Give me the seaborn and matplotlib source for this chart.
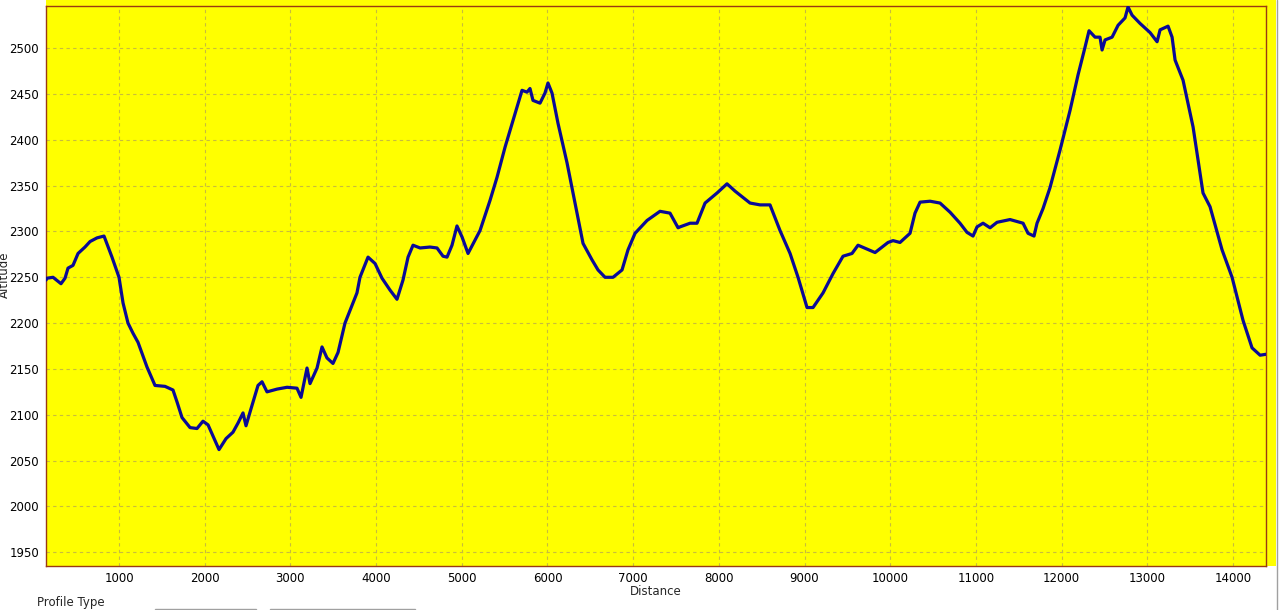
import pandas as pd
import matplotlib.pyplot as plt
import seaborn as sns
from matplotlib.patches import Rectangle

# --- profile data (distance in m, altitude in m) ---
distance = [148, 160, 230, 323, 370, 405, 463, 522, 603, 662, 743, 825, 918,
            1000, 1047, 1105, 1163, 1222, 1327, 1420, 1537, 1630, 1677, 1735,
            1829, 1910, 1980, 2039, 2120, 2167, 2249, 2330, 2389, 2447, 2482,
            2529, 2622, 2669, 2727, 2844, 2961, 3077, 3124, 3194, 3229, 3311,
            3369, 3427, 3497, 3556, 3637, 3696, 3777, 3812, 3906, 3988, 4069,
            4163, 4244, 4314, 4373, 4431, 4513, 4629, 4711, 4781, 4828, 4886,
            4944, 5003, 5073, 5213, 5330, 5411, 5505, 5598, 5703, 5761, 5796,
            5831, 5913, 5971, 6006, 6053, 6123, 6228, 6321, 6415, 6520, 6590,
            6672, 6765, 6870, 6940, 7022, 7162, 7313, 7430, 7524, 7547, 7664,
            7745, 7839, 7979, 8095, 8189, 8364, 8481, 8597, 8714, 8831, 8924,
            9029, 9099, 9216, 9332, 9449, 9554, 9624, 9823, 9974, 10033, 10114,
            10231, 10289, 10348, 10465, 10581, 10698, 10814, 10896, 10966,
            11013, 11083, 11165, 11246, 11398, 11550, 11608, 11678, 11713,
            11783, 11865, 11982, 12098, 12192, 12273, 12320, 12390, 12448,
            12472, 12507, 12589, 12659, 12740, 12775, 12822, 12915, 13032,
            13114, 13149, 13242, 13289, 13324, 13417, 13534, 13650, 13732,
            13872, 13989, 14117, 14222, 14316, 14385]
altitude = [2247, 2249, 2250, 2243, 2249, 2260, 2263, 2276, 2283, 2289, 2293,
            2295, 2272, 2250, 2222, 2200, 2189, 2179, 2152, 2132, 2131, 2127,
            2114, 2097, 2086, 2085, 2093, 2089, 2072, 2062, 2074, 2081, 2091,
            2102, 2088, 2103, 2132, 2136, 2125, 2128, 2130, 2129, 2119, 2151,
            2134, 2151, 2174, 2162, 2156, 2168, 2200, 2214, 2233, 2250, 2272,
            2265, 2249, 2236, 2226, 2247, 2272, 2285, 2282, 2283, 2282, 2273,
            2272, 2285, 2306, 2294, 2276, 2301, 2334, 2359, 2392, 2421, 2454,
            2452, 2456, 2443, 2440, 2451, 2462, 2451, 2418, 2375, 2331, 2287,
            2269, 2258, 2250, 2250, 2258, 2280, 2298, 2312, 2322, 2320, 2304,
            2305, 2309, 2309, 2331, 2342, 2352, 2344, 2331, 2329, 2329, 2301,
            2276, 2250, 2217, 2217, 2233, 2254, 2273, 2276, 2285, 2277, 2288,
            2290, 2288, 2298, 2320, 2332, 2333, 2331, 2321, 2309, 2299, 2295,
            2305, 2309, 2304, 2310, 2313, 2309, 2298, 2295, 2309, 2325, 2348,
            2389, 2432, 2471, 2501, 2519, 2512, 2512, 2498, 2509, 2512, 2525,
            2533, 2545, 2536, 2527, 2517, 2507, 2520, 2524, 2512, 2487, 2465,
            2414, 2342, 2327, 2280, 2250, 2203, 2173, 2165, 2166]

x_ticks = [1000, 2000, 3000, 4000, 5000, 6000, 7000, 8000, 9000, 10000,
           11000, 12000, 13000, 14000]
y_ticks = [1950, 2000, 2050, 2100, 2150, 2200, 2250, 2300, 2350, 2400, 2450, 2500]

df = pd.DataFrame({"Distance": distance, "Altitude": altitude})

sns.set_style("white")
plt.rcParams['font.family'] = ['DejaVu Sans']

fig = plt.figure(figsize=(12.8, 6.1), dpi=100)
fig.patch.set_facecolor("white")

# yellow panel behind the plot (sticks out a bit on top and right)
fig.patches.append(Rectangle((46 / 1280, 44 / 610), 1230 / 1280, 566 / 610,
                             transform=fig.transFigure, facecolor="#FFFF00",
                             edgecolor="none", zorder=-5))

ax = fig.add_axes([46 / 1280, 44 / 610, 1220 / 1280, 560 / 610])
ax.set_zorder(1)
ax.set_facecolor("#FFFF00")

sns.lineplot(data=df, x="Distance", y="Altitude", ax=ax, color="#0A0A96",
             linewidth=2.3, zorder=3)

ax.set_xlim(148, 14385)
ax.set_ylim(1935, 2546)
ax.set_xticks(x_ticks)
ax.set_yticks(y_ticks)
ax.grid(True, color="#C8BC3C", linestyle=(0, (3, 3)), linewidth=0.8)
ax.set_axisbelow(True)

for s in ax.spines.values():
    s.set_color("#9A3A12")
    s.set_linewidth(1.0)

ax.tick_params(axis="both", labelsize=8.5, colors="black", length=3, width=0.8,
               direction="out", pad=2)
ax.tick_params(axis="x", length=0, pad=4)
ax.set_xlabel("Distance", fontsize=8.5, labelpad=0)
ax.set_ylabel("Altitude", fontsize=8.5)
ax.yaxis.set_label_coords(-0.0287, 0.52)

# controls under the chart
fig.text(37 / 1280, 1 / 610, "Profile Type", fontsize=8.5, va="bottom", ha="left")
fig.patches.append(Rectangle((155 / 1280, -0.01), 101 / 1280, 7 / 610,
                             transform=fig.transFigure, facecolor="white",
                             edgecolor="#A0A0A0", linewidth=1))
fig.patches.append(Rectangle((270 / 1280, -0.01), 145 / 1280, 7 / 610,
                             transform=fig.transFigure, facecolor="#F0F0F0",
                             edgecolor="#A0A0A0", linewidth=1))
fig.lines.append(plt.Line2D([1277 / 1280, 1277 / 1280], [0, 1],
                            transform=fig.transFigure, color="#A0A0A0", linewidth=1))

fig.savefig("out.png", dpi=100)
